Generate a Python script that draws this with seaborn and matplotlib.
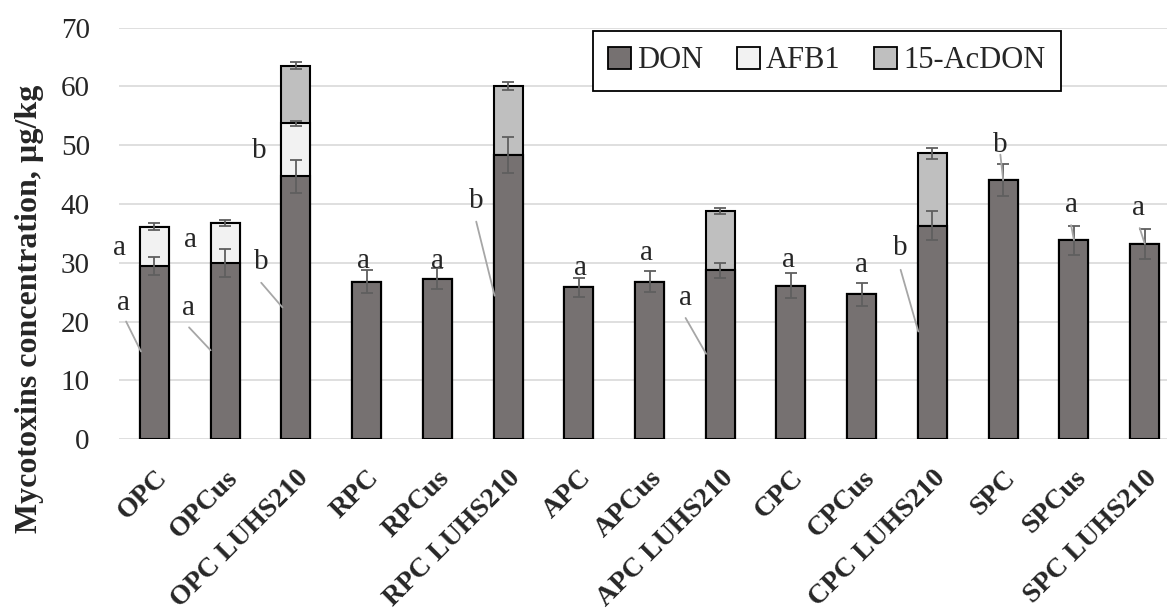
import numpy as np
import pandas as pd
import seaborn as sns
import matplotlib.pyplot as plt

sns.set_style("white")
plt.rcParams['font.family'] = ['Liberation Serif', 'DejaVu Serif']

categories = ["OPC", "OPCus", "OPC LUHS210", "RPC", "RPCus", "RPC LUHS210",
              "APC", "APCus", "APC LUHS210", "CPC", "CPCus", "CPC LUHS210",
              "SPC", "SPCus", "SPC LUHS210"]
don = [29.5, 30.0, 44.7, 26.8, 27.3, 48.3, 25.8, 26.8, 28.7, 26.1, 24.6, 36.3, 44.1, 33.8, 33.2]
don_err = [1.5, 2.4, 2.8, 1.9, 1.8, 3.1, 1.6, 1.85, 1.3, 2.1, 2.0, 2.5, 2.7, 2.4, 2.6]
afb1 = [6.6, 6.8, 9.0, 0, 0, 0, 0, 0, 0, 0, 0, 0, 0, 0, 0]
afb1_err = [0.6, 0.55, 0.4, 0, 0, 0, 0, 0, 0, 0, 0, 0, 0, 0, 0]
acdon = [0, 0, 9.8, 0, 0, 11.8, 0, 0, 10.1, 0, 0, 12.3, 0, 0, 0]
acdon_err = [0, 0, 0.6, 0, 0, 0.7, 0, 0, 0.5, 0, 0, 0.95, 0, 0, 0]

# significance letters: bar index, letter
letter_idx = [0, 0, 1, 1, 2, 2, 3, 4, 5, 6, 7, 8, 9, 10, 11, 12, 13, 14]
letter_txt = ["a", "a", "a", "a", "b", "b", "a", "a", "b", "a", "a", "a", "a", "a", "b", "b", "a", "a"]
# layout of letters (x offset, baseline y) and leader lines
letter_pos = [(-0.49, 31.3), (-0.43, 22.0), (-0.49, 32.65), (-0.52, 21.1), (-0.52, 47.8),
              (-0.49, 28.9), (-0.04, 29.1), (0.0, 29.1), (-0.45, 39.3), (0.03, 27.9),
              (-0.04, 30.5), (-0.49, 22.8), (-0.04, 29.35), (0.0, 28.5), (-0.45, 31.3),
              (-0.04, 48.9), (-0.04, 38.7), (-0.08, 38.1)]
leader = [None, ((-0.40, 20.0), (-0.19, 14.9)), None, ((-0.51, 19.0), (-0.205, 15.1)), None,
          ((-0.49, 26.6), (-0.19, 22.4)), None, None, ((-0.45, 37.0), (-0.19, 24.4)), None,
          None, ((-0.49, 20.6), (-0.2, 14.5)), None, None, ((-0.45, 28.8), (-0.2, 18.3)),
          ((-0.04, 48.4), (0.0, 44.1)), ((-0.04, 36.4), (0.0, 33.9)), ((-0.07, 35.9), (0.0, 33.3))]

df = pd.DataFrame({"sample": categories, "DON": don, "AFB1": afb1, "15-AcDON": acdon})
df["lvl1"] = df["DON"]
df["lvl2"] = df["DON"] + df["AFB1"]
df["lvl3"] = df["lvl2"] + df["15-AcDON"]

colors = {"DON": "#767171", "AFB1": "#f2f2f2", "15-AcDON": "#bfbfbf"}

fig = plt.figure(figsize=(11.67, 6.16), dpi=100)
ax = fig.add_axes([0.102, 0.2873, 0.898, 0.6677])

bw = 0.41
sns.barplot(data=df, x="sample", y="lvl3", color=colors["15-AcDON"], width=bw,
            edgecolor="black", linewidth=1.5, saturation=1, ax=ax, zorder=2)
sns.barplot(data=df, x="sample", y="lvl2", color=colors["AFB1"], width=bw,
            edgecolor="black", linewidth=1.5, saturation=1, ax=ax, zorder=2)
sns.barplot(data=df, x="sample", y="lvl1", color=colors["DON"], width=bw,
            edgecolor="black", linewidth=1.5, saturation=1, ax=ax, zorder=2)

x = np.arange(len(categories))
err_kw = dict(fmt="none", ecolor="#5f5f5f", elinewidth=1.3, capsize=4.5, capthick=1.3, zorder=4)
ax.errorbar(x, df["lvl1"], yerr=don_err, **err_kw)
m2 = df["AFB1"].values > 0
ax.errorbar(x[m2], df["lvl2"].values[m2], yerr=np.array(afb1_err)[m2], **err_kw)
m3 = df["15-AcDON"].values > 0
ax.errorbar(x[m3], df["lvl3"].values[m3], yerr=np.array(acdon_err)[m3], **err_kw)

for i, t, (dx, yy), ln in zip(letter_idx, letter_txt, letter_pos, leader):
    ax.text(i + dx, yy, t, ha="center", va="baseline", fontsize=21, zorder=5)
    if ln is not None:
        (x0, y0), (x1, y1) = ln
        ax.plot([i + x0, i + x1], [y0, y1], color="#a6a6a6", lw=1.3, zorder=5)

ax.set_ylim(0, 70)
ax.set_xlim(-0.5, 14.316)
ax.set_yticks(range(0, 71, 10))
ax.yaxis.grid(True, color="#d9d9d9", lw=1.2, zorder=0)
ax.set_axisbelow(True)
for s in ax.spines.values():
    s.set_visible(False)
ax.tick_params(axis="y", labelsize=21, length=0, pad=21)
ax.tick_params(axis="x", length=0, pad=19)
ax.set_xticks(x)
ax.set_xticklabels(categories, rotation=45, ha="right", va="top", rotation_mode="anchor",
                   fontsize=20, fontweight="bold")
ax.set_xlabel("")
ax.set_ylabel("Mycotoxins concentration, µg/kg", fontsize=23, fontweight="bold")
ax.yaxis.set_label_coords(-0.072, 0.316)

handles = [plt.Rectangle((0, 0), 1, 1, facecolor=colors[k], edgecolor="black", lw=1.3)
           for k in ["DON", "AFB1", "15-AcDON"]]
leg = fig.legend(handles, ["DON", "AFB1", "15-AcDON"], ncol=3, loc="center",
                 bbox_to_anchor=(0.7087, 0.901), fontsize=22, frameon=True, fancybox=False,
                 framealpha=1, edgecolor="black", handlelength=0.75, handleheight=0.75,
                 handletextpad=0.2, columnspacing=1.1, borderpad=0.5)
leg.get_frame().set_linewidth(1.3)

fig.savefig("out.png", dpi=100)
